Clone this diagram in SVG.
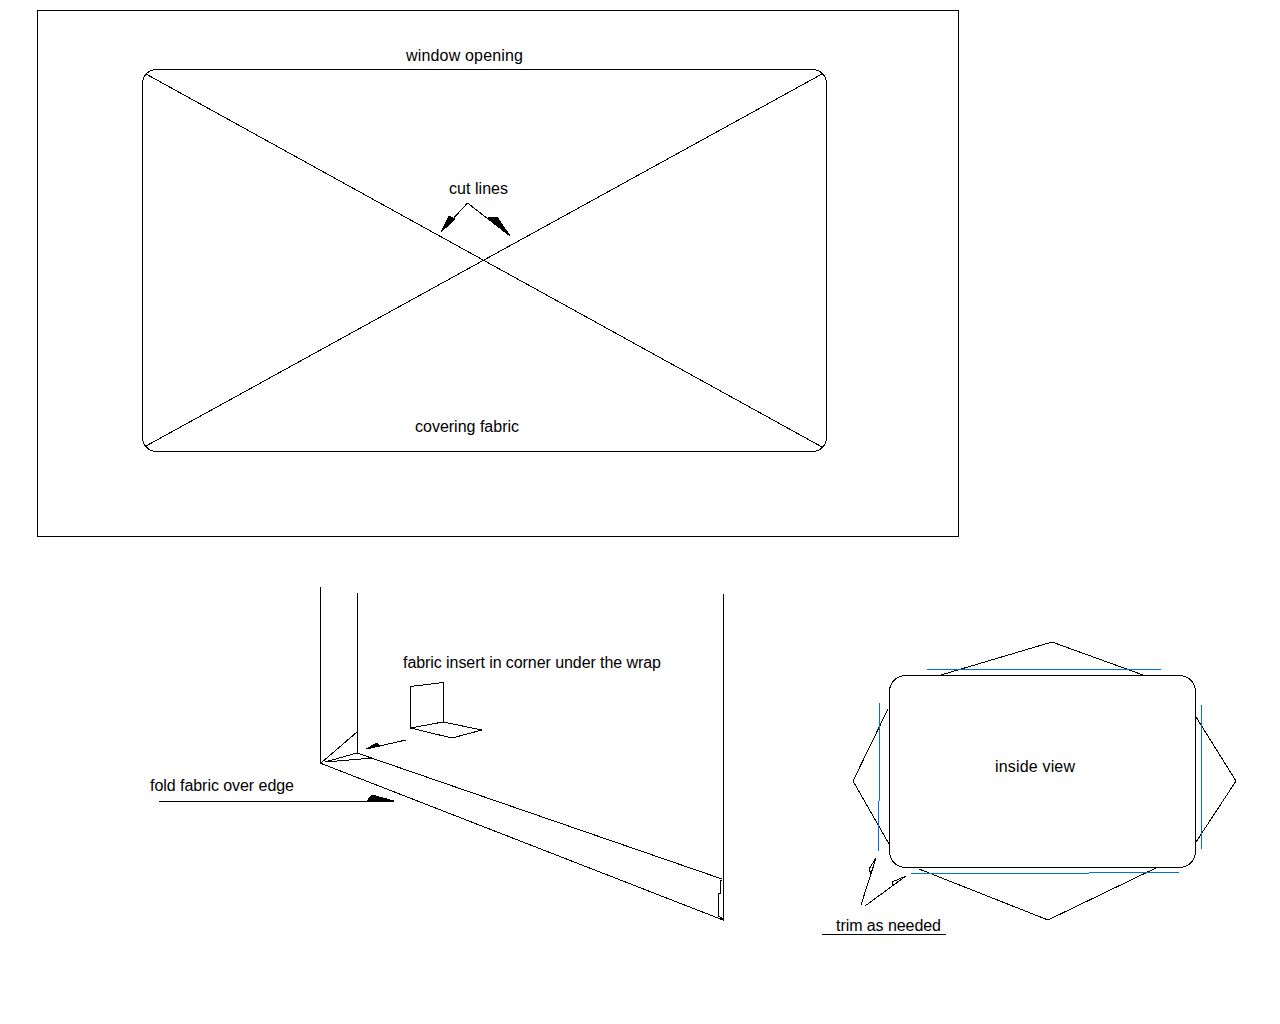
<svg xmlns="http://www.w3.org/2000/svg" width="1280" height="1024" viewBox="0 0 1280 1024">
<style>
.l{fill:none;stroke:#000;stroke-width:1;shape-rendering:crispEdges}
.b{fill:none;stroke:#0070e0;stroke-width:1;shape-rendering:crispEdges}
.h{fill:#000;stroke:#000;stroke-width:1;shape-rendering:crispEdges}
text{font-family:"Liberation Sans",Arial,sans-serif;font-size:16px;fill:#000}
</style>
<rect width="1280" height="1024" fill="#fff"/>
<g id="frame"><rect class="l" x="37.5" y="10.5" width="921" height="526"/></g>
<g id="window"><rect class="l" x="142.5" y="69.5" width="684" height="382" rx="14" ry="14"/>
<path class="l" d="M146 74L822 447M146 446L822 74"/></g>
<g id="insert"><path class="l" d="M410.5 728V686.500L443 682.500V722M410.500 728L443 722L482 730L452 738Z"/></g>
<g id="wall"><path class="l" d="M320.5 587V763M357.500 593V753M723.500 594V921M320 763L723 920M357 753L722 879M321 763L357 732M325 762L357 753M325 762L373 758M722 880H720V893H718.500V916L723 919"/></g>
<g id="inside"><rect class="l" x="889.5" y="675.5" width="306" height="192" rx="16" ry="16"/>
<path class="l" d="M941 675L1052 642L1143 675M1196 717L1236 781L1196 842M888 709L853 781L889 844M919 869L1048 920L1158 867"/>
<path class="b" d="M927 669.500H1161M1201.500 705V849M879.500 703V801M878.500 801V851M911 873.500H1089M1089 872.500H1179"/></g>
<g id="connectors">
<path class="l" d="M467.500 203L441 232M467.500 203L510 236M406 740L366 749M159 801H394M861 905L876 858M865 906L906 876M822 934.500H946"/>
<path class="h" d="M441 232L449 216L455 219ZM510 236L488 218L497 217ZM366 749L377 743L380 746ZM394 801L372 795L367 801Z"/>
<path class="l" d="M876 858L869 869L871 874L876 858M906 876L892 882V886L906 876"/>
</g>
<g id="labels">
<text x="406" y="61" textLength="117">window opening</text>
<text x="449" y="194" textLength="59">cut lines</text>
<text x="415" y="432" textLength="104">covering fabric</text>
<text x="403" y="668" textLength="258">fabric insert in corner under the wrap</text>
<text x="150" y="791" textLength="144">fold fabric over edge</text>
<text x="995" y="772" textLength="80">inside view</text>
<text x="836" y="931" textLength="105">trim as needed</text>
</g>
</svg>
